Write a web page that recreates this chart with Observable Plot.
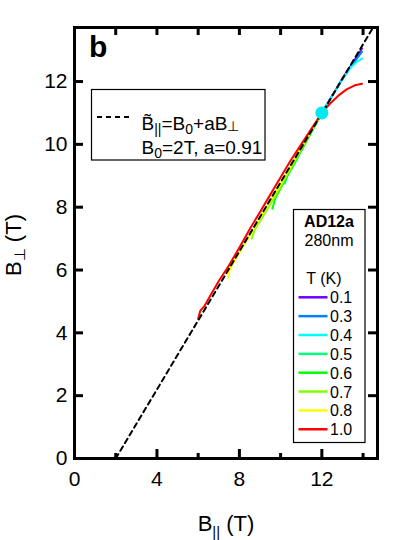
<!DOCTYPE html>
<html><head><meta charset="utf-8">
<script src="https://cdn.jsdelivr.net/npm/d3@7"></script>
<script src="https://cdn.jsdelivr.net/npm/@observablehq/plot@0.6"></script>
<style>html,body{margin:0;padding:0;background:#fff}svg{display:block}</style>
</head><body><div id="chart"></div>
<script>
// Temperatures and colours
const temps = ["0.1","0.3","0.4","0.5","0.6","0.7","0.8","1.0"];
const colors = ["#7000ff","#0080ff","#00ffff","#00ff80","#00ff00","#80ff00","#ffff00","#ff0000"];

// Curves: [B_par (T), B_perp (T)]
const T01 = [[11.4,10.3],[12,11.0],[12.5,11.55],[13,12.1],[13.5,12.6],[13.95,13.05]];
const T03 = [[11.2,10.1],[12,11.0],[12.5,11.55],[13,12.08],[13.5,12.55],[13.95,12.95]];
const T04 = [[10.8,9.6],[11.4,10.3],[12,11.0],[12.5,11.55],[13,12.07],[13.4,12.45],[13.7,12.63],[13.95,12.73]];
const T05 = [[10.2,8.75],[10.35,9.05],[10.6,9.3],[11,9.8],[11.5,10.4],[12,11.0]];
const T06 = [[9.6,7.95],[9.75,8.3],[10,8.6],[10.5,9.2],[11,9.8],[11.5,10.4],[12,11.0]];
const T07 = [[8.6,7.0],[8.75,7.3],[9,7.55],[9.5,8.1],[10,8.65],[10.5,9.25],[11,9.85],[12,11.0]];
const T08 = [[7.45,5.75],[7.55,6.05],[8,6.55],[8.5,7.1],[9,7.65],[9.5,8.2],[10,8.75],[11,9.9],[12,11.0]];
const T10 = [[6.0,4.45],[6.1,4.7],[6.3,4.85],[6.6,5.2],[7,5.65],[7.5,6.15],[8,6.72],[8.5,7.3],[9,7.85],[9.5,8.4],[10,8.95],[10.5,9.5],[11,10.0],[11.5,10.5],[12,11.0],[12.4,11.3],[12.8,11.55],[13.2,11.75],[13.6,11.88],[13.95,11.93]];
const curveList = [T01,T03,T04,T05,T06,T07,T08,T10];

// Fit line  B_par = B0 + a*B_perp
const B0 = 2, a = 0.91;
const fitPerp = [0, 13.72];
// Crossing point
const crossPoint = [[12, 11]];

// Ticks
const xTickLabels = [0,4,8,12];
const xMinor = [2,6,10,14];
const xTop = [2,4,6,8,10,12,14];
const yTickLabels = [0,2,4,6,8,10,12];
const yTicks = [2,4,6,8,10,12];

const rows = curveList.flatMap((c,i) => c.map(([x,y]) => ({x, y, T: temps[i]})));
const fit = fitPerp.map(y => ({x: B0 + a*y, y}));
const cross = crossPoint.map(([x,y]) => ({x,y}));

const W = 398, H = 540, mL = 74, mR = 21, mT = 27, mB = 82;
const pw = W - mL - mR, ph = H - mT - mB;

const plot = Plot.plot({
  width: W, height: H,
  marginLeft: mL, marginRight: mR, marginTop: mT, marginBottom: mB,
  x: {domain: [0, 14.7]},
  y: {domain: [0, 13.72]},
  color: {domain: temps, range: colors},
  style: {fontFamily: "'Liberation Sans', Arial, sans-serif", background: "white", color: "black"},
  marks: [
    Plot.line(rows, {x: "x", y: "y", z: "T", stroke: "T", strokeWidth: 2}),
    Plot.line(fit, {x: "x", y: "y", stroke: "black", strokeWidth: 2, strokeDasharray: "5,4"}),
    Plot.dot(cross, {x: "x", y: "y", r: 6.5, fill: "#00e8f0"}),
    Plot.tickX(xTickLabels.slice(1), {insetTop: ph - 9, strokeWidth: 3}),
    Plot.tickX(xMinor, {insetTop: ph - 5, strokeWidth: 3}),
    Plot.tickX(xTop, {insetBottom: ph - 8, strokeWidth: 3}),
    Plot.tickY(yTicks, {insetRight: pw - 9, strokeWidth: 3}),
    Plot.tickY(yTicks, {insetLeft: pw - 9, strokeWidth: 3}),
    Plot.axisX(xTickLabels, {anchor: "bottom", tickSize: 0, tickPadding: 13, fontSize: 21, label: null}),
    Plot.axisY(yTickLabels, {anchor: "left", tickSize: 0, tickPadding: 7, fontSize: 21, label: null}),
    Plot.frame({strokeWidth: 3})
  ]
});
document.getElementById("chart").appendChild(plot);

const svg = d3.select(plot);
const FF = "'Liberation Sans', Arial, sans-serif";
function txt(x, y, size, anchor) {
  return svg.append("text").attr("x", x).attr("y", y).attr("font-family", FF)
    .attr("font-size", size).attr("text-anchor", anchor || "start").attr("fill", "black");
}
function rich(g, segs, size, subSize, subDy) {
  let shifted = 0;
  segs.forEach(([t, sub, d]) => {
    const ts = g.append("tspan").text(t);
    if (sub) { const s = d ?? subDy; ts.attr("font-size", subSize).attr("dy", s - shifted); shifted = s; }
    else { ts.attr("font-size", size).attr("dy", -shifted); shifted = 0; }
  });
}

// panel letter
txt(89, 57, 30).attr("font-weight", "bold").text("b");

// axis titles
const xt = txt(226, 531, 22, "middle");
rich(xt, [["B"], ["||", true], [" (T)"]], 22, 15, 6);
const yt = svg.append("text").attr("transform", "translate(21,245) rotate(-90)")
  .attr("text-anchor", "middle").attr("font-family", FF).attr("font-size", 22).attr("fill", "black");
rich(yt, [["B"], ["\u22a5", true], [" (T)"]], 22, 15, 4);

// fit legend
svg.append("rect").attr("x", 91.5).attr("y", 89.5).attr("width", 173.5).attr("height", 70.5)
  .attr("fill", "white").attr("stroke", "black").attr("stroke-width", 1.2);
svg.append("line").attr("x1", 97).attr("x2", 132).attr("y1", 117).attr("y2", 117)
  .attr("stroke", "black").attr("stroke-width", 2).attr("stroke-dasharray", "5,4");
const e1 = txt(141.5, 130, 19);
rich(e1, [["B\u0303"], ["||", true], ["=B"], ["0", true], ["+aB"], ["\u22a5", true, 1]], 19, 14, 4);
const e2 = txt(141.5, 154, 19);
rich(e2, [["B"], ["0", true], ["=2T, a=0.91"]], 19, 14, 4);

// temperature legend
svg.append("rect").attr("x", 293.5).attr("y", 209.5).attr("width", 71.5).attr("height", 233)
  .attr("fill", "white").attr("stroke", "black").attr("stroke-width", 1.2);
txt(329, 226.5, 16, "middle").attr("font-weight", "bold").text("AD12a");
txt(329, 245.5, 16, "middle").text("280nm");
txt(324, 283.5, 16, "middle").text("T (K)");
temps.forEach((t, i) => {
  const y = 297.3 + i * 18.85;
  svg.append("line").attr("x1", 298.5).attr("x2", 327.5).attr("y1", y).attr("y2", y)
    .attr("stroke", colors[i]).attr("stroke-width", 2.5);
  txt(330, y + 6, 16).text(t);
});
</script>
</body></html>
